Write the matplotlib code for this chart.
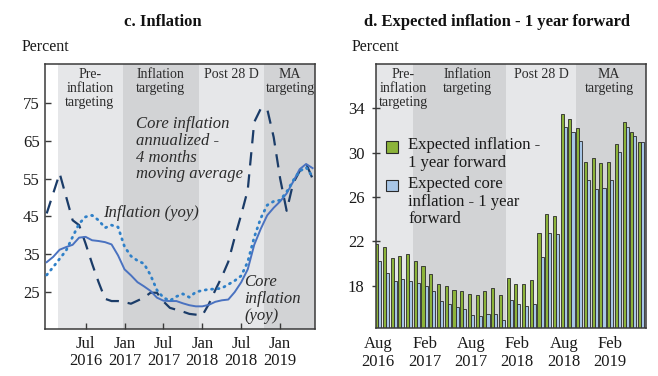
import numpy as np
import matplotlib
matplotlib.use('Agg')
import matplotlib.pyplot as plt
from matplotlib.patches import Rectangle

plt.rcParams['font.family'] = ['Liberation Serif', 'DejaVu Serif']

# 左图: 月度数据, 2016-01 ~ 2019-06 (t = 0..41)
months_c = list(range(42))
core_yoy = [32.9, 34.3, 36.2, 36.9, 37.5, 39.4, 39.6, 38.7, 38.5, 38.2, 37.6, 34.7,
            31.0, 29.4, 27.6, 26.5, 25.3, 23.5, 22.7, 22.6, 22.6, 22.0, 21.5, 21.2,
            21.2, 21.6, 22.4, 22.8, 23.0, 25.0, 27.6, 31.0, 37.5, 41.7, 45.3, 47.3,
            49.0, 51.1, 54.2, 57.5, 58.9, 57.8]
infl_yoy = [29.5, 31.6, 33.8, 36.0, 39.6, 43.1, 44.9, 45.3, 44.0, 42.0, 42.7, 42.2,
            37.0, 34.5, 33.3, 32.5, 29.5, 25.5, 23.5, 22.7, 23.8, 24.5, 23.6, 25.0,
            25.4, 25.7, 25.8, 26.0, 27.0, 28.0, 29.3, 33.0, 39.5, 44.5, 48.0, 49.0,
            49.3, 51.5, 54.5, 57.0, 58.0, 55.5]
core_4mma = [45.8, 51.1, 56.4, 50.2, 44.0, 42.7, 37.8, 32.5, 27.6, 23.2, 22.6, 22.6,
             22.3, 21.9, 22.7, 23.5, 24.8, 24.8, 22.5, 20.8, 20.3, 19.8, 19.2, 19.0,
             18.8, 21.8, 25.5, 29.0, 33.0, 39.5, 45.5, 52.0, 70.0, 73.5, 73.5, 66.0,
             55.0, 46.5, 53.8, 57.0, 59.0, 55.0]
c_ticks = [6, 12, 18, 24, 30, 36]
c_ticklabels = ['Jul\n2016', 'Jan\n2017', 'Jul\n2017', 'Jan\n2018', 'Jul\n2018', 'Jan\n2019']
c_regimes = [1.8, 11.8, 23.5, 33.5]

# 右图: 月度数据, 2016-08 ~ 2019-06
months_d = list(range(35))
exp_infl = [21.8, 21.5, 20.5, 20.7, 20.9, 20.2, 19.8, 19.1, 18.2, 18.0, 17.6, 17.5,
            17.3, 17.2, 17.5, 17.8, 17.2, 18.7, 18.2, 18.2, 18.5, 22.8, 24.5, 24.3,
            33.5, 33.0, 32.2, 29.2, 29.5, 29.1, 29.2, 30.8, 32.8, 31.9, 31.0]
exp_core = [20.2, 19.2, 18.4, 18.6, 18.4, 18.3, 18.0, 17.5, 16.6, 16.4, 16.1, 15.9,
            15.4, 15.3, 15.5, 15.5, 14.9, 16.7, 16.4, 16.2, 16.4, 20.6, 22.8, 22.7,
            32.3, 31.9, 31.1, 27.5, 26.7, 26.8, 27.5, 30.1, 32.3, 31.5, 31.0]
d_ticks = [0, 6, 12, 18, 24, 30]
d_ticklabels = ['Aug\n2016', 'Feb\n2017', 'Aug\n2017', 'Feb\n2018', 'Aug\n2018', 'Feb\n2019']
d_regimes = [-0.32, 4.5, 16.55, 25.55]

regime_names = ['Pre-\ninflation\ntargeting', 'Inflation\ntargeting', 'Post 28 D', 'MA\ntargeting']
light, dark = '#e6e7e9', '#d2d3d5'
text_c = '#2b2b2b'
green, blue = '#8cb33a', '#a8c6e6'

fig = plt.figure(figsize=(6.58, 3.76), dpi=100)
ax1 = fig.add_axes([0.0688, 0.125, 0.4104, 0.705])
ax2 = fig.add_axes([0.5710, 0.1277, 0.4108, 0.702])


def shade(ax, bounds, right):
    edges = list(bounds) + [right]
    for i in range(4):
        ax.axvspan(edges[i], edges[i + 1], color=light if i % 2 == 0 else dark, lw=0, zorder=0)


def style(ax):
    for s in ax.spines.values():
        s.set_color('#3a3a3a')
        s.set_linewidth(1.1)
    ax.tick_params(labelsize=12, colors='#3a3a3a', labelcolor='#1a1a1a')


# --- c. Inflation ---
xmax1 = 41.42
shade(ax1, c_regimes, xmax1)
ax1.plot(months_c, core_4mma, color='#1b3c68', lw=1.6, dashes=(6, 4), zorder=3)
ax1.plot(months_c, core_yoy, color='#4a72c0', lw=1.4, zorder=3)
ax1.plot(months_c, infl_yoy, color='#2f80c8', lw=2.0, dashes=(0.4, 1.9),
         dash_capstyle='round', zorder=3)
ax1.set_xlim(-0.22, xmax1)
ax1.set_ylim(15.2, 85.4)
ax1.set_yticks([25, 35, 45, 55, 65, 75])
ax1.set_xticks(c_ticks)
ax1.set_xticklabels(c_ticklabels, linespacing=1.1)
style(ax1)
ax1.tick_params(axis='both', direction='in', length=4, width=1)
ax1.tick_params(axis='y', pad=4)
ax1.tick_params(axis='x', pad=5)

for xc, name in zip([0.165, 0.428, 0.688, 0.906], regime_names):
    ax1.text(xc, 0.985, name, transform=ax1.transAxes, ha='center', va='top',
             fontsize=10, linespacing=1.12, color=text_c)
ax1.text(0.336, 0.805, 'Core inflation\nannualized -\n4 months\nmoving average',
         transform=ax1.transAxes, ha='left', va='top', fontsize=12, style='italic',
         linespacing=1.08, color=text_c)
ax1.text(0.214, 0.438, 'Inflation (yoy)', transform=ax1.transAxes, ha='left',
         va='center', fontsize=12, style='italic', color=text_c)
ax1.text(0.736, 0.113, 'Core\ninflation\n(yoy)', transform=ax1.transAxes, ha='left',
         va='center', fontsize=12, style='italic', linespacing=1.08, color=text_c)

# --- d. Expected inflation ---
xmax2 = 34.64
shade(ax2, d_regimes, xmax2)
x = np.array(months_d)
w = 0.4
ax2.bar(x - w / 2, exp_infl, width=w, color=green, edgecolor='#2a2a2a', lw=0.6, zorder=2)
ax2.bar(x + w / 2, exp_core, width=w, color=blue, edgecolor='#2a2a2a', lw=0.6, zorder=2)
ax2.set_xlim(-0.32, xmax2)
ax2.set_ylim(14.2, 38)
ax2.set_yticks([18, 22, 26, 30, 34])
ax2.set_xticks(d_ticks)
ax2.set_xticklabels(d_ticklabels, linespacing=1.1)
style(ax2)
ax2.tick_params(axis='y', direction='inout', length=6, width=1, pad=5)
ax2.tick_params(axis='x', length=0, pad=6)

for xc, name in zip([0.101, 0.338, 0.612, 0.863], regime_names):
    ax2.text(xc, 0.985, name, transform=ax2.transAxes, ha='center', va='top',
             fontsize=10, linespacing=1.12, color=text_c)

# 图例 (方块与首行对齐)
legend_items = [(green, 'Expected inflation -\n1 year forward', 0.686),
                (blue, 'Expected core\ninflation - 1 year\nforward', 0.540)]
for col, lab, yc in legend_items:
    ax2.add_patch(Rectangle((0.038, yc - 0.022), 0.043, 0.044, transform=ax2.transAxes,
                            facecolor=col, edgecolor='#2a2a2a', lw=0.8, zorder=4))
    ax2.text(0.1195, yc + 0.036, lab, transform=ax2.transAxes, ha='left', va='top',
             fontsize=12, linespacing=1.13, color='#1a1a1a', zorder=4)

# titles
fig.text(0.248, 0.9415, 'c. Inflation', ha='center', va='center', fontsize=12,
         fontweight='bold', color='#111111')
fig.text(0.755, 0.9415, 'd. Expected inflation - 1 year forward', ha='center',
         va='center', fontsize=12, fontweight='bold', color='#111111')
fig.text(0.033, 0.875, 'Percent', ha='left', va='center', fontsize=11.5, color='#1a1a1a')
fig.text(0.535, 0.875, 'Percent', ha='left', va='center', fontsize=11.5, color='#1a1a1a')

fig.savefig('out.png', dpi=100)
